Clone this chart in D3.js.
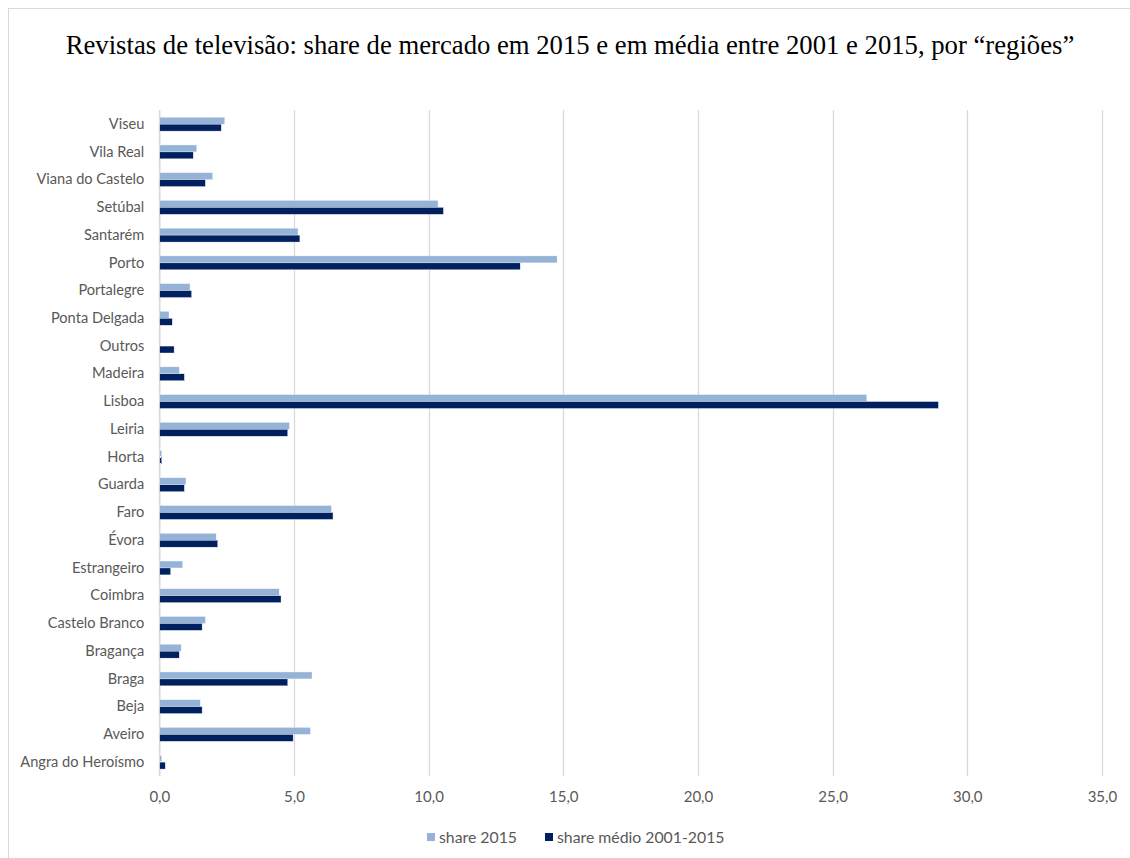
<!DOCTYPE html>
<html>
<head>
<meta charset="utf-8">
<script src="https://cdnjs.cloudflare.com/ajax/libs/d3/7.8.5/d3.min.js"></script>
<style>
  body { margin: 0; background: #fff; }
  svg { display: block; }
</style>
</head>
<body>
<script>
var width = 1130;
var height = 858;

// categories top to bottom, as in the picture
var regions = ["Viseu", "Vila Real", "Viana do Castelo", "Setúbal", "Santarém", "Porto",
  "Portalegre", "Ponta Delgada", "Outros", "Madeira", "Lisboa", "Leiria", "Horta",
  "Guarda", "Faro", "Évora", "Estrangeiro", "Coimbra", "Castelo Branco", "Bragança",
  "Braga", "Beja", "Aveiro", "Angra do Heroísmo"];

var share2015 = [2.43, 1.39, 1.98, 10.35, 5.15, 14.77, 1.14, 0.36, 0, 0.74, 26.27, 4.83,
  0.09, 0.99, 6.39, 2.11, 0.87, 4.45, 1.71, 0.81, 5.67, 1.52, 5.61, 0.09];

var shareMedio = [2.30, 1.26, 1.71, 10.55, 5.22, 13.40, 1.20, 0.48, 0.55, 0.93, 28.93, 4.77,
  0.09, 0.93, 6.45, 2.17, 0.42, 4.52, 1.59, 0.74, 4.77, 1.59, 4.97, 0.22];

var series = ["share 2015", "share médio 2001-2015"];
var colors = ["#95b3d7", "#002060"];
var xTicks = [0, 5, 10, 15, 20, 25, 30, 35];

var margin = { top: 110.3, right: 27.5, bottom: 82, left: 159.3 };

var svg = d3.select("body").append("svg")
    .attr("width", width)
    .attr("height", height);

// chart frame
svg.append("rect")
    .attr("x", 8.5).attr("y", 8.5)
    .attr("width", width + 10).attr("height", height + 10)
    .attr("fill", "#fff")
    .attr("stroke", "#d9d9d9")
    .attr("stroke-width", 1);

svg.append("text")
    .attr("x", 570)
    .attr("y", 54)
    .attr("text-anchor", "middle")
    .attr("font-family", "'Liberation Serif', 'Times New Roman', serif")
    .attr("font-size", "26.7px")
    .attr("fill", "#000")
    .text("Revistas de televisão: share de mercado em 2015 e em média entre 2001 e 2015, por “regiões”");

var x = d3.scaleLinear()
    .domain([0, 35])
    .range([margin.left, 1101.9]);

var y0 = d3.scaleBand()
    .domain(regions)
    .range([margin.top, height - margin.bottom])
    .paddingInner(0.5)
    .paddingOuter(0.25);

var y1 = d3.scaleBand()
    .domain(series)
    .range([0, y0.bandwidth()]);

// gridlines
svg.append("g")
  .selectAll("line")
  .data(xTicks)
  .enter().append("line")
    .attr("x1", function(d) { return Math.round(x(d)) + 0.5; })
    .attr("x2", function(d) { return Math.round(x(d)) + 0.5; })
    .attr("y1", margin.top)
    .attr("y2", height - margin.bottom)
    .attr("stroke", "#d9d9d9")
    .attr("stroke-width", 1.3);

// x tick labels
var xAxis = svg.append("g")
    .attr("transform", "translate(0," + (height - margin.bottom) + ")")
    .call(d3.axisBottom(x).tickValues(xTicks).tickSize(0).tickPadding(15)
      .tickFormat(function(d) { return d3.format(".1f")(d).replace(".", ","); }));
xAxis.select(".domain").remove();
xAxis.selectAll("text")
    .attr("font-family", "Lato, 'Open Sans', sans-serif")
    .attr("font-size", "15px")
    .attr("fill", "#595959");

// category axis
var yAxis = svg.append("g")
    .attr("transform", "translate(" + margin.left + ",0)")
    .call(d3.axisLeft(y0).tickSize(0).tickPadding(15));
yAxis.select(".domain").attr("stroke", "#d9d9d9").attr("stroke-width", 1.3);
yAxis.selectAll("text")
    .attr("font-family", "Lato, 'Open Sans', sans-serif")
    .attr("font-size", "14.6px")
    .attr("fill", "#595959");

// bars
var rows = regions.map(function(r, i) {
  return { region: r, values: [share2015[i], shareMedio[i]] };
});

var groups = svg.append("g")
  .selectAll("g")
  .data(rows)
  .enter().append("g")
    .attr("transform", function(d) { return "translate(0," + y0(d.region) + ")"; });

groups.selectAll("rect")
  .data(function(d) { return d.values.map(function(v, k) { return { key: series[k], value: v, k: k }; }); })
  .enter().append("rect")
    .filter(function(d) { return d.value > 0; })
    .attr("x", x(0) + 0.5)
    .attr("y", function(d) { return y1(d.key); })
    .attr("width", function(d) { return Math.max(0, x(d.value) - x(0) - 0.5); })
    .attr("height", y1.bandwidth())
    .attr("fill", function(d) { return colors[d.k]; })
    .attr("stroke", "#eef2f8")
    .attr("stroke-width", 0.4);

// legend
var legendX = [427, 545];
var legend = svg.append("g")
  .selectAll("g")
  .data(series)
  .enter().append("g")
    .attr("transform", function(d, i) { return "translate(" + legendX[i] + ",837)"; });

legend.append("rect")
    .attr("x", 0).attr("y", -4)
    .attr("width", 8).attr("height", 8)
    .attr("fill", function(d, i) { return colors[i]; });

legend.append("text")
    .attr("x", 12)
    .attr("dy", "0.35em")
    .attr("font-family", "Lato, 'Open Sans', sans-serif")
    .attr("font-size", "15.8px")
    .attr("fill", "#595959")
    .text(function(d) { return d; });
</script>
</body>
</html>
